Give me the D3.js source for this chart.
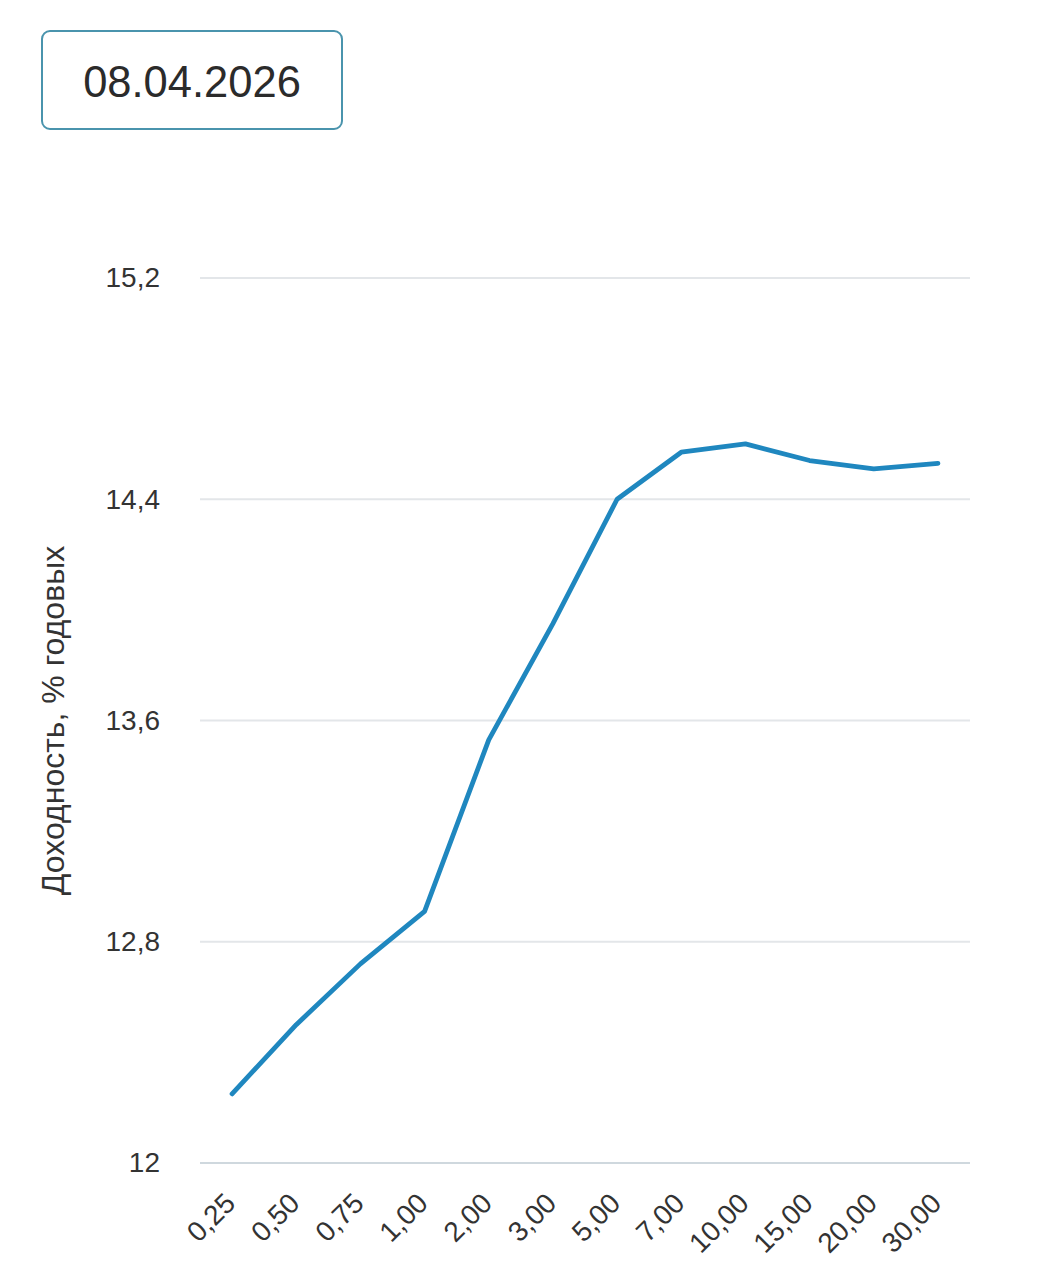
<!DOCTYPE html>
<html>
<head>
<meta charset="utf-8">
<script src="https://cdn.jsdelivr.net/npm/d3@7"></script>
<style>
  body { margin: 0; background: #fff; }
  svg { display: block; font-family: "Liberation Sans", Arial, sans-serif; }
</style>
</head>
<body>
<svg id="chart"></svg>
<script>
// сроки до погашения, лет
var terms = ["0,25", "0,50", "0,75", "1,00", "2,00", "3,00", "5,00", "7,00", "10,00", "15,00", "20,00", "30,00"];
// доходность, % годовых
var yields = [12.25, 12.50, 12.72, 12.91, 13.53, 13.95, 14.40, 14.57, 14.60, 14.54, 14.51, 14.53];
var yTicks = [12, 12.8, 13.6, 14.4, 15.2];
var dateLabel = "08.04.2026";
var yTitle = "Доходность, % годовых";

var W = 1038, H = 1280;
var margin = {top: 278, right: 68, bottom: 117, left: 200},
    width = W - margin.left - margin.right,
    height = H - margin.top - margin.bottom;

var svg = d3.select("#chart")
    .attr("width", W)
    .attr("height", H);

// дата в рамке
svg.append("rect")
    .attr("x", 42).attr("y", 31)
    .attr("width", 300).attr("height", 98)
    .attr("rx", 8)
    .attr("fill", "#fff")
    .attr("stroke", "#4a94ad")
    .attr("stroke-width", 2);
svg.append("text")
    .attr("x", 192).attr("y", 97)
    .attr("text-anchor", "middle")
    .attr("font-size", 43.5)
    .attr("fill", "#2b2b2b")
    .text(dateLabel);

var x = d3.scaleBand()
    .domain(terms)
    .range([0, width])
    .padding(0);

var y = d3.scaleLinear()
    .domain([12, 15.2])
    .range([height, 0]);

var g = svg.append("g")
    .attr("transform", "translate(" + margin.left + "," + margin.top + ")");

// сетка
g.selectAll(".grid")
    .data(yTicks)
    .enter().append("line")
    .attr("class", "grid")
    .attr("x1", 0).attr("x2", width)
    .attr("y1", function(d) { return y(d); })
    .attr("y2", function(d) { return y(d); })
    .attr("stroke", function(d, i) { return i === 0 ? "#cfd8de" : "#e3e6e9"; })
    .attr("stroke-width", 2);

// ось Y
var yAxis = g.append("g")
    .call(d3.axisLeft(y).tickValues(yTicks).tickSize(0).tickPadding(40)
        .tickFormat(function(d) { return String(d).replace(".", ","); }));
yAxis.select(".domain").remove();
yAxis.selectAll("text")
    .attr("font-size", 28)
    .attr("fill", "#333")
    .attr("font-family", "Liberation Sans, Arial, sans-serif");

// ось X
var xAxis = g.append("g")
    .attr("transform", "translate(0," + height + ")")
    .call(d3.axisBottom(x).tickSize(0));
xAxis.select(".domain").remove();
xAxis.selectAll("text")
    .attr("font-size", 28)
    .attr("fill", "#333")
    .attr("font-family", "Liberation Sans, Arial, sans-serif")
    .attr("text-anchor", "end")
    .attr("y", 0).attr("dy", 0)
    .attr("transform", "translate(5,42) rotate(-45)");

// подпись оси Y
svg.append("text")
    .attr("transform", "translate(64," + (margin.top + y(13.6)) + ") rotate(-90)")
    .attr("text-anchor", "middle")
    .attr("font-size", 32)
    .attr("fill", "#333")
    .text(yTitle);

// кривая доходности
var line = d3.line()
    .x(function(d, i) { return x(terms[i]) + x.bandwidth() / 2; })
    .y(function(d) { return y(d); });

g.append("path")
    .datum(yields)
    .attr("fill", "none")
    .attr("stroke", "#1f87bf")
    .attr("stroke-width", 4.8)
    .attr("stroke-linejoin", "round")
    .attr("stroke-linecap", "round")
    .attr("d", line);
</script>
</body>
</html>
